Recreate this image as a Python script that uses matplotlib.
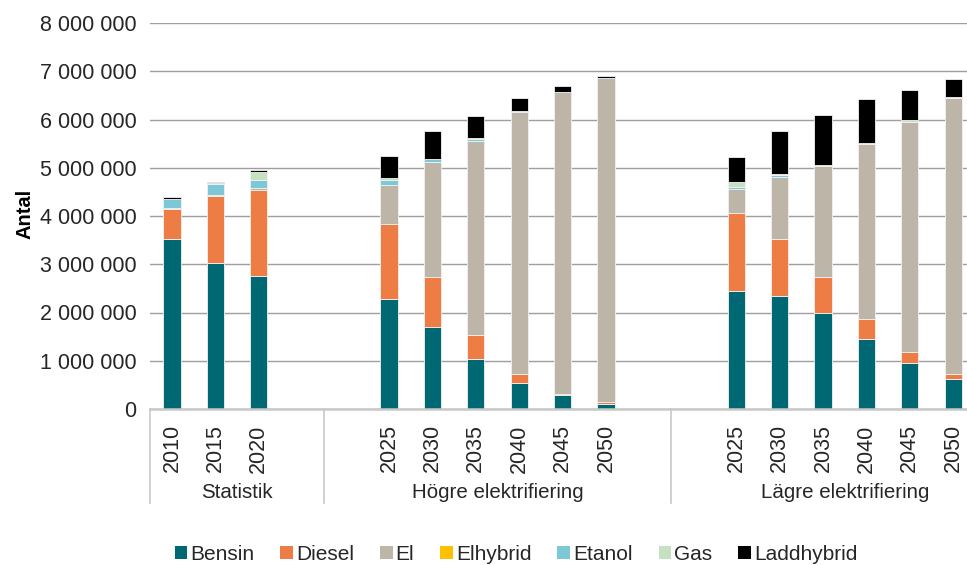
import matplotlib
matplotlib.use("Agg")
import matplotlib.pyplot as plt
from matplotlib.patches import Patch
from matplotlib.lines import Line2D
import numpy as np

plt.rcParams['font.family'] = ['Liberation Sans', 'DejaVu Sans']

# ---- data (values in millions of vehicles) ----
groups = ["Statistik", "Högre elektrifiering", "Lägre elektrifiering"]
years_stat = ["2010", "2015", "2020"]
years_scen = ["2025", "2030", "2035", "2040", "2045", "2050"]

series_names = ["Bensin", "Diesel", "El", "Elhybrid", "Etanol", "Gas", "Laddhybrid"]
colors = ["#006873", "#EE7D45", "#BCB5A8", "#FFC000", "#7CC8D6", "#C5E1C0", "#000000"]

#            Statistik            Högre elektrifiering                  Lägre elektrifiering
bensin   = [3.53, 3.03, 2.76,  2.27, 1.69, 1.04, 0.54, 0.28, 0.11,  2.45, 2.35, 2.00, 1.46, 0.96, 0.62]
diesel   = [0.62, 1.39, 1.77,  1.57, 1.04, 0.50, 0.19, 0.03, 0.04,  1.62, 1.18, 0.73, 0.41, 0.23, 0.11]
el       = [0.01, 0.02, 0.04,  0.80, 2.38, 4.02, 5.42, 6.25, 6.72,  0.49, 1.27, 2.30, 3.62, 4.75, 5.72]
elhybrid = [0.00, 0.00, 0.00,  0.00, 0.00, 0.00, 0.00, 0.00, 0.00,  0.00, 0.00, 0.00, 0.00, 0.00, 0.00]
etanol   = [0.19, 0.23, 0.18,  0.10, 0.07, 0.04, 0.03, 0.01, 0.00,  0.04, 0.04, 0.01, 0.01, 0.00, 0.00]
gas      = [0.01, 0.01, 0.17,  0.05, 0.01, 0.01, 0.00, 0.00, 0.00,  0.11, 0.03, 0.01, 0.01, 0.04, 0.01]
ladd     = [0.03, 0.03, 0.03,  0.46, 0.58, 0.47, 0.26, 0.12, 0.04,  0.51, 0.89, 1.04, 0.92, 0.63, 0.38]

series = [bensin, diesel, el, elhybrid, etanol, gas, ladd]

# ---- layout of category slots (one blank slot before each scenario group and after it) ----
x_stat = np.arange(len(years_stat))                    # 0,1,2
x_hog = np.arange(len(years_scen)) + 5                 # 5..10
x_lag = np.arange(len(years_scen)) + 13                # 13..18
xpos = np.concatenate([x_stat, x_hog, x_lag])
xlabels = years_stat + years_scen + years_scen
separators = [-0.5, 3.5, 11.5, 19.5]
group_centers = [1.5, 7.5, 15.5]

W, H = 967, 565
fig = plt.figure(figsize=(W / 100, H / 100), dpi=100)
ax_left, ax_right = 150.3, 150.3 + 20 * 43.4
ax_top, ax_bot = 23, 409
ax = fig.add_axes([ax_left / W, (H - ax_bot) / H, (ax_right - ax_left) / W, (ax_bot - ax_top) / H])

bottom = np.zeros(len(xpos))
for name, vals, c in zip(series_names, series, colors):
    v = np.array(vals) * 1e6
    ax.bar(xpos, v, width=0.4, bottom=bottom, color=c, edgecolor="#F2F2F2",
           linewidth=0.6, label=name, zorder=3)
    bottom += v

ax.set_xlim(-0.5, 19.5)
ax.set_ylim(0, 8e6)
yt = np.arange(0, 8e6 + 1, 1e6)
ax.set_yticks(yt)
ax.set_yticklabels([f"{int(t):,}".replace(",", " ") for t in yt], fontsize=15.5, color="#262626")
ax.tick_params(axis="y", length=0, pad=10)
ax.grid(axis="y", color="#9E9E9E", linewidth=1.0, zorder=0)
ax.set_axisbelow(True)

ax.set_xticks(xpos)
ax.set_xticklabels(xlabels, rotation=90, fontsize=15.5, color="#262626")
ax.tick_params(axis="x", length=0, pad=11)

for s in ["left", "right", "top"]:
    ax.spines[s].set_visible(False)
ax.spines["bottom"].set_color("#C8C8C8")
ax.spines["bottom"].set_linewidth(1.8)
ax.spines["bottom"].set_zorder(4)

# group separators and labels
sep_depth = -(503 - ax_bot) / (ax_bot - ax_top)
for s in separators:
    ax.add_line(Line2D([s, s], [0, sep_depth], transform=ax.get_xaxis_transform(),
                       color="#C8C8C8", linewidth=1.2, clip_on=False))
lab_y = -(493 - ax_bot) / (ax_bot - ax_top)
for gx, g in zip(group_centers, groups):
    ax.text(gx, lab_y, g, transform=ax.get_xaxis_transform(), ha="center", va="center",
            fontsize=14.8, color="#262626")

fig.text(25 / W, (H - 214) / H, "Antal", rotation=90, ha="center", va="center",
         fontsize=14.5, fontweight="bold", color="#000000")

handles = [Patch(facecolor=c, edgecolor="none") for c in colors]
fig.legend(handles, series_names, loc="center", bbox_to_anchor=(516 / W, (H - 554) / H),
           ncol=7, frameon=False, fontsize=15, handlelength=0.6, handleheight=0.6,
           handletextpad=0.15, columnspacing=1.25, labelcolor="#262626")

fig.savefig("out.png", dpi=100)
